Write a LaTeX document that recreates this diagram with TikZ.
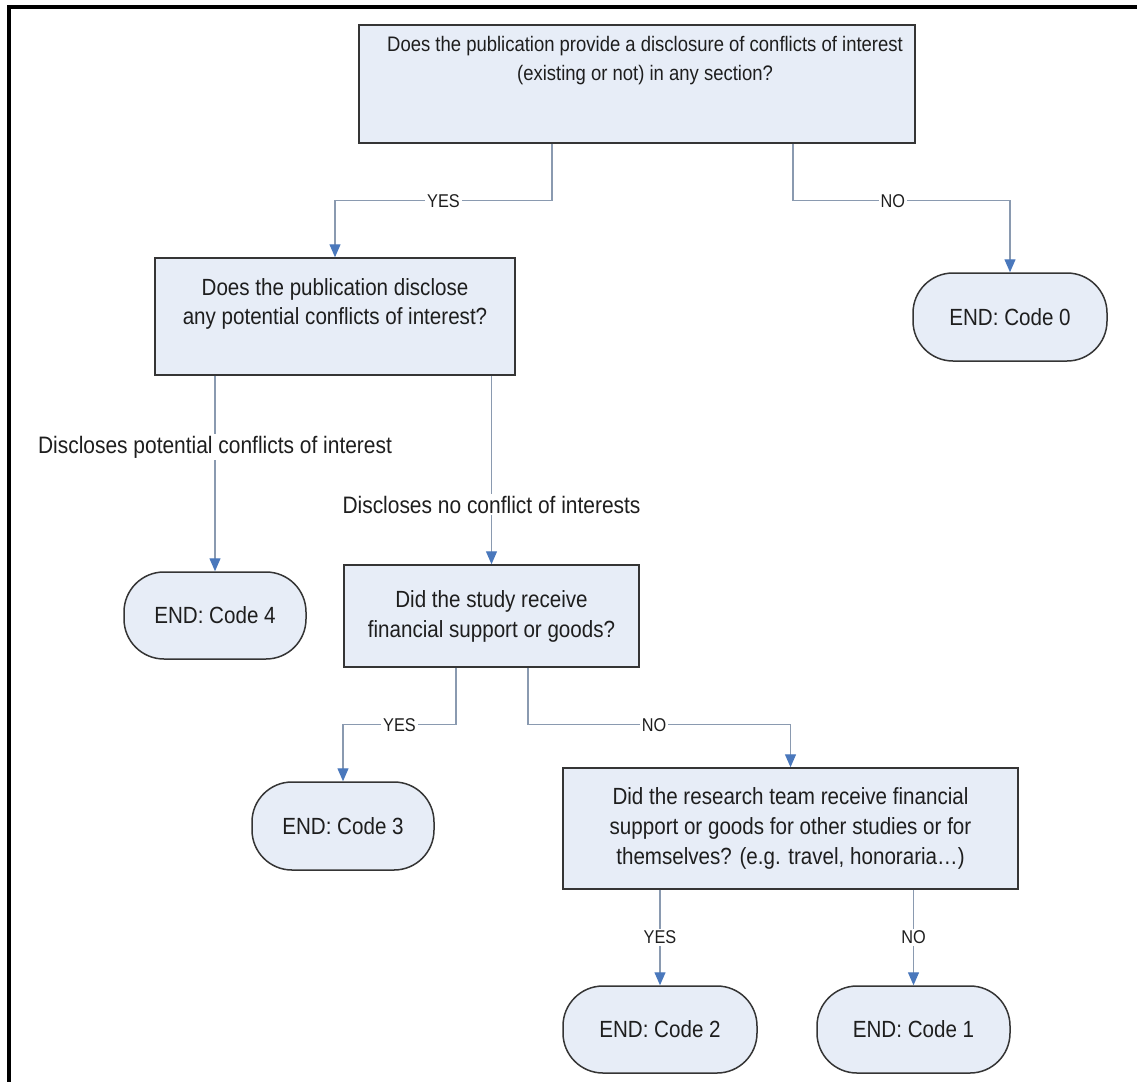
\documentclass[tikz,border=0pt]{standalone}
\usepackage{fontspec}
\setmainfont[FakeStretch=0.88]{Liberation Sans}
\usetikzlibrary{arrows.meta,calc}
\definecolor{boxfill}{HTML}{E7EDF7}
\definecolor{boxdraw}{HTML}{353535}
\definecolor{linegray}{HTML}{8A9AB0}
\definecolor{arrowblue}{HTML}{4A78BC}
\definecolor{txt}{HTML}{1E1E1E}
\begin{document}
\begin{tikzpicture}[x=1pt,y=-1pt,
  qbox/.style={draw=boxdraw, fill=boxfill, line width=1.5pt, inner sep=0pt, text=txt, align=center, font=\fontsize{23.4}{30}\selectfont},
  endbox/.style={qbox, rounded corners=40pt},
  qtext/.style={inner sep=0pt, text=txt, align=center, font=\fontsize{23.4}{29}\selectfont},
  conn/.style={draw=linegray, line width=1.3pt, -{Triangle[length=13pt,width=11pt,color=arrowblue]}},
  lbl/.style={fill=white, text=txt, inner sep=2pt, font=\fontsize{18.5}{20}\selectfont},
  biglbl/.style={fill=white, text=txt, inner sep=2pt, font=\fontsize{23.8}{26}\selectfont}]
\useasboundingbox (0,0) rectangle (1137,1081);
\fill[white] (0,0) rectangle (1137,1081);
% frame
\draw[line width=3.5pt] (9,1100) -- (9,7) -- (1150,7);

% boxes
\node[qbox, minimum width=556pt, minimum height=118pt] (q1) at (637,84) {};
\node[qtext, font=\fontsize{21}{29}\selectfont] (q1t) at (645,61) {Does the publication provide a disclosure of conflicts of interest\\(existing or not) in any section?};

\node[qbox, minimum width=360pt, minimum height=117pt] (q2) at (335,316.5) {};
\node[qtext] (q2t) at (335,304) {Does the publication disclose\\any potential conflicts of interest?};

\node[qbox, minimum width=295pt, minimum height=102pt] (q3) at (491.5,616) {Did the study receive\\financial support or goods?};

\node[qbox, minimum width=455pt, minimum height=121pt] (q4) at (790.5,828.5) {Did the research team receive financial\\support or goods for other studies or for\\themselves? (e.g. travel, honoraria\dots)};

\node[endbox, minimum width=194pt, minimum height=88pt] (c0) at (1010,317) {END: Code 0};
\node[endbox, minimum width=182pt, minimum height=87pt] (c4) at (215,615.5) {END: Code 4};
\node[endbox, minimum width=182pt, minimum height=88pt] (c3) at (343,826) {END: Code 3};
\node[endbox, minimum width=194pt, minimum height=87pt] (c2) at (660,1029.5) {END: Code 2};
\node[endbox, minimum width=193pt, minimum height=87pt] (c1) at (913.5,1029.5) {END: Code 1};

% connectors
\draw[conn] ([xshift=-85pt]q1.south) -- ++(0,57) -| node[lbl, pos=0.25] {YES} (q2.north);
\draw[conn] ([xshift=156pt]q1.south) -- ++(0,57) -| node[lbl, pos=0.23] {NO} (c0.north);

\draw[conn] (c4.north |- q2.south) -- node[biglbl, pos=0.365] {Discloses potential conflicts of interest} (c4.north);
\draw[conn] (q3.north |- q2.south) -- node[biglbl, pos=0.684] {Discloses no conflict of interests} (q3.north);

\draw[conn] ([xshift=-35.5pt]q3.south) -- ++(0,57) -| node[lbl, pos=0.25] {YES} (c3.north);
\draw[conn] ([xshift=36.5pt]q3.south) -- ++(0,57) -| node[lbl, pos=0.24] {NO} (q4.north);

\draw[conn] (c2.north |- q4.south) -- node[lbl, midway] {YES} (c2.north);
\draw[conn] (c1.north |- q4.south) -- node[lbl, midway] {NO} (c1.north);
\end{tikzpicture}
\end{document}
